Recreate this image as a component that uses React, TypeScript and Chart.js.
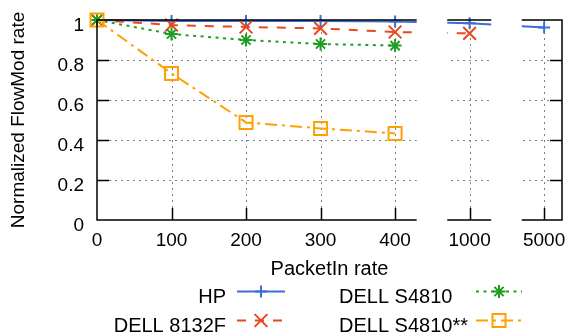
import React, { useEffect, useRef } from 'react';
import { Chart, registerables } from 'chart.js';

Chart.register(...registerables);

// ---- data ----
const xLabels = ['0', '100', '200', '300', '400', '1000', '5000'];
const xIndex = [0, 1, 2, 3, 4, 5, 6];
const hpValues = [1, 0.995, 0.995, 0.995, 0.993, 0.984, 0.962];
const dell8132fValues = [1, 0.975, 0.965, 0.958, 0.94, 0.933];
const dellS4810Values = [1, 0.93, 0.9, 0.88, 0.872];
const dellS4810StarValues = [1, 0.733, 0.488, 0.458, 0.433];
const yTicks = [0, 0.2, 0.4, 0.6, 0.8, 1];
const seriesNames = ['HP', 'DELL 8132F', 'DELL S4810', 'DELL S4810**'];

// ---- styling ----
const FONT = '"Liberation Sans", Arial, Helvetica, sans-serif';
const colors = ['#3b6fd4', '#e8481c', '#1f9e1f', '#ffa000'];
const dashes: number[][] = [[], [9, 9], [3, 4.5], [12, 5, 3, 5]];
const breakGaps = [
  [4.29, 4.7],
  [5.29, 5.7],
];

function toPoints(vals: number[]) {
  return vals.map((v, i) => ({ x: xIndex[i], y: v }));
}

function drawMarker(ctx: CanvasRenderingContext2D, kind: number, x: number, y: number, color: string) {
  ctx.save();
  ctx.strokeStyle = color;
  ctx.lineWidth = 2;
  ctx.setLineDash([]);
  ctx.beginPath();
  if (kind === 0) {
    ctx.moveTo(x - 6, y); ctx.lineTo(x + 6, y);
    ctx.moveTo(x, y - 6); ctx.lineTo(x, y + 6);
  } else if (kind === 1) {
    const d = 6.4;
    ctx.moveTo(x - d, y - d); ctx.lineTo(x + d, y + d);
    ctx.moveTo(x + d, y - d); ctx.lineTo(x - d, y + d);
  } else if (kind === 2) {
    const r = 6.5, d = 4.6;
    ctx.moveTo(x - r, y); ctx.lineTo(x + r, y);
    ctx.moveTo(x, y - r); ctx.lineTo(x, y + r);
    ctx.moveTo(x - d, y - d); ctx.lineTo(x + d, y + d);
    ctx.moveTo(x + d, y - d); ctx.lineTo(x - d, y + d);
  } else {
    ctx.rect(x - 6.5, y - 6.5, 13, 13);
  }
  ctx.stroke();
  ctx.restore();
}

const framePlugin = {
  id: 'frame',
  beforeDatasetsDraw(chart: any) {
    const { ctx, chartArea: a, scales } = chart;
    const x = scales.x, y = scales.y;
    ctx.save();
    ctx.strokeStyle = '#808080';
    ctx.lineWidth = 1;
    ctx.setLineDash([2, 4]);
    for (const v of yTicks) {
      if (v === 0 || v === 1) continue;
      const py = Math.round(y.getPixelForValue(v)) + 0.5;
      ctx.beginPath();
      ctx.moveTo(a.left, py);
      ctx.lineTo(a.right, py);
      ctx.stroke();
    }
    for (const i of xIndex) {
      if (i === 0) continue;
      const px = Math.round(x.getPixelForValue(i)) + 0.5;
      ctx.beginPath();
      ctx.moveTo(px, a.top);
      ctx.lineTo(px, a.bottom);
      ctx.stroke();
    }
    ctx.restore();
  },
  afterDatasetsDraw(chart: any) {
    const { ctx, chartArea: a, scales } = chart;
    const x = scales.x, y = scales.y;
    ctx.save();
    ctx.setLineDash([]);
    ctx.strokeStyle = '#000';
    ctx.lineWidth = 1.5;
    ctx.strokeRect(a.left, a.top, a.right - a.left, a.bottom - a.top);
    ctx.beginPath();
    for (const v of yTicks) {
      if (v === 0 || v === 1) continue;
      const py = Math.round(y.getPixelForValue(v)) + 0.5;
      ctx.moveTo(a.left, py); ctx.lineTo(a.left + 12, py);
      ctx.moveTo(a.right, py); ctx.lineTo(a.right - 12, py);
    }
    for (const i of xIndex) {
      if (i === 0) continue;
      const px = Math.round(x.getPixelForValue(i)) + 0.5;
      ctx.moveTo(px, a.bottom); ctx.lineTo(px, a.bottom - 12);
    }
    ctx.stroke();
    ctx.fillStyle = '#fff';
    for (const [g0, g1] of breakGaps) {
      const p0 = x.getPixelForValue(g0);
      const p1 = x.getPixelForValue(g1);
      ctx.fillRect(p0, a.top - 2, p1 - p0, a.bottom - a.top + 4);
    }
    ctx.restore();
  },
  afterDraw(chart: any) {
    const { ctx } = chart;
    ctx.save();
    ctx.font = `20px ${FONT}`;
    ctx.fillStyle = '#000';
    ctx.textBaseline = 'alphabetic';
    const rows = [303, 332];
    const lineY = [291.5, 320.5];
    const cols = [
      { textX: 226, align: 'right' as CanvasTextAlign, s0: 237, s1: 285, m: 261 },
      { textX: 339, align: 'left' as CanvasTextAlign, s0: 476, s1: 522, m: 499 },
    ];
    const layout = [
      { s: 0, col: 0, row: 0 },
      { s: 1, col: 0, row: 1 },
      { s: 2, col: 1, row: 0 },
      { s: 3, col: 1, row: 1 },
    ];
    for (const it of layout) {
      const c = cols[it.col];
      ctx.textAlign = c.align;
      ctx.fillText(seriesNames[it.s], c.textX, rows[it.row]);
      ctx.save();
      ctx.strokeStyle = colors[it.s];
      ctx.lineWidth = 2;
      ctx.setLineDash(dashes[it.s]);
      ctx.beginPath();
      ctx.moveTo(c.s0, lineY[it.row]);
      ctx.lineTo(c.s1, lineY[it.row]);
      ctx.stroke();
      ctx.restore();
      drawMarker(ctx, it.s, c.m, lineY[it.row], colors[it.s]);
    }
    ctx.restore();
  },
};

export default function App() {
  const ref = useRef<HTMLCanvasElement | null>(null);
  useEffect(() => {
    if (!ref.current) return;
    Chart.defaults.font.family = FONT;
    Chart.defaults.font.size = 19;
    Chart.defaults.color = '#000';
    const mk = (i: number, vals: number[], pointStyle: string, radius: number, order: number) => ({
      label: seriesNames[i],
      data: toPoints(vals),
      borderColor: colors[i],
      backgroundColor: 'transparent',
      borderWidth: 2,
      borderDash: dashes[i],
      pointStyle,
      pointRadius: radius,
      pointHoverRadius: radius,
      pointBorderColor: colors[i],
      pointBackgroundColor: 'transparent',
      pointBorderWidth: 2,
      tension: 0,
      clip: false as any,
      order,
    });
    const chart = new Chart(ref.current, {
      type: 'line',
      data: {
        datasets: [
          mk(0, hpValues, 'cross', 6, 3),
          mk(1, dell8132fValues, 'crossRot', 9, 2),
          mk(2, dellS4810Values, 'star', 6.5, 1),
          mk(3, dellS4810StarValues, 'rect', 9.2, 0),
        ] as any,
      },
      options: {
        responsive: false,
        animation: false,
        layout: { autoPadding: false, padding: { left: 0, top: 20, right: 6, bottom: 52 } },
        plugins: { legend: { display: false }, tooltip: { enabled: false } },
        events: [],
        scales: {
          x: {
            type: 'linear',
            min: 0,
            max: 6.24,
            afterBuildTicks: (s: any) => {
              s.ticks = xIndex.map((v) => ({ value: v }));
            },
            afterFit: (s: any) => {
              s.height = 62;
              s.paddingLeft = 0;
              s.paddingRight = 0;
            },
            ticks: {
              callback: (v: any) => xLabels[v as number] ?? '',
              padding: 9,
              maxRotation: 0,
              autoSkip: false,
              color: '#000',
              font: { size: 19, family: FONT },
            },
            grid: { display: false, drawTicks: false },
            border: { display: false },
            title: {
              display: true,
              text: 'PacketIn rate',
              color: '#000',
              font: { size: 20, family: FONT },
              padding: { top: 0, bottom: 1 },
            },
          },
          y: {
            type: 'linear',
            min: 0,
            max: 1,
            afterBuildTicks: (s: any) => {
              s.ticks = yTicks.map((v) => ({ value: v }));
            },
            afterFit: (s: any) => {
              s.width = 97;
              s.paddingTop = 0;
              s.paddingBottom = 0;
            },
            ticks: {
              callback: (v: any) => (v === 0 ? '0' : v === 1 ? '1' : Number(v).toFixed(1)),
              padding: 13,
              labelOffset: 5.5,
              color: '#000',
              font: { size: 19, family: FONT },
            },
            grid: { display: false, drawTicks: false },
            border: { display: false },
            title: {
              display: true,
              text: 'Normalized FlowMod rate',
              color: '#000',
              font: { size: 19, family: FONT },
              padding: { top: 7, bottom: 0 },
            },
          },
        },
      },
      plugins: [framePlugin],
    });
    return () => chart.destroy();
  }, []);
  return (
    <div style={{ position: 'absolute', left: 0, top: 0, width: 568, height: 334, background: '#fff' }}>
      <canvas ref={ref} width={568} height={334} />
    </div>
  );
}
